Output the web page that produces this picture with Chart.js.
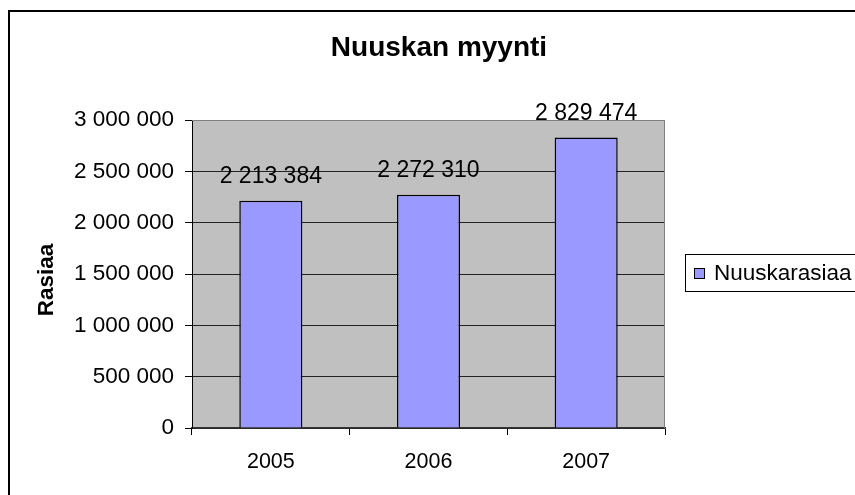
<!DOCTYPE html>
<html>
<head>
<meta charset="utf-8">
<script src="https://cdn.jsdelivr.net/npm/chart.js@4.4.1/dist/chart.umd.min.js"></script>
<style>
  html, body { margin: 0; padding: 0; background: #fff; }
  #wrap { width: 855px; height: 495px; position: relative; }
</style>
</head>
<body>
<div id="wrap"><canvas id="chart"></canvas></div>
<script>
const years = ['2005', '2006', '2007'];
const rasiat = [2213384, 2272310, 2829474];
const seriesName = 'Nuuskarasiaa';
const chartTitle = 'Nuuskan myynti';
const yTitle = 'Rasiaa';

const FONT = '"Liberation Sans", Arial, sans-serif';

// space-separated thousands, like the Finnish Excel original
const fmt = v => String(Math.round(v)).replace(/\B(?=(\d{3})+(?!\d))/g, ' ');

const excelLook = {
  id: 'excelLook',
  beforeDraw(chart) {
    const { ctx, chartArea: a } = chart;
    ctx.save();
    ctx.fillStyle = '#c0c0c0';
    ctx.fillRect(a.left, a.top, a.right - a.left, a.bottom - a.top);
    ctx.restore();
  },
  beforeDatasetsDraw(chart) {
    const { ctx, chartArea: a } = chart;
    ctx.save();
    ctx.strokeStyle = '#808080';
    ctx.lineWidth = 1;
    ctx.beginPath();
    ctx.moveTo(a.left, a.top + 0.5);
    ctx.lineTo(a.right - 0.5, a.top + 0.5);
    ctx.lineTo(a.right - 0.5, a.bottom);
    ctx.stroke();
    ctx.restore();
  },
  afterDraw(chart) {
    const { ctx } = chart;
    ctx.save();

    // value labels above bars
    const meta = chart.getDatasetMeta(0);
    ctx.fillStyle = '#000';
    ctx.font = '23px ' + FONT;
    ctx.textAlign = 'center';
    ctx.textBaseline = 'alphabetic';
    meta.data.forEach((bar, i) => {
      ctx.fillText(fmt(rasiat[i]), bar.x, bar.y - 18);
    });

    // title
    ctx.font = 'bold 28px ' + FONT;
    ctx.fillText(chartTitle, 439, 56);

    // y axis title
    ctx.save();
    ctx.translate(53, 280);
    ctx.rotate(-Math.PI / 2);
    ctx.font = 'bold 22.5px ' + FONT;
    ctx.fillText(yTitle, 0, 0);
    ctx.restore();

    // legend
    ctx.lineWidth = 1;
    ctx.strokeStyle = '#000';
    ctx.strokeRect(685.5, 254.5, 220, 37);
    ctx.fillStyle = '#9999ff';
    ctx.fillRect(694, 268, 11, 11);
    ctx.strokeRect(694.5, 268.5, 10, 10);
    ctx.fillStyle = '#000';
    ctx.textAlign = 'left';
    ctx.font = '22.5px ' + FONT;
    ctx.fillText(seriesName, 714, 280);

    // outer chart frame
    ctx.lineWidth = 2;
    ctx.strokeRect(9, 11, 900, 600);
    ctx.restore();
  }
};

new Chart(document.getElementById('chart'), {
  type: 'bar',
  data: {
    labels: years,
    datasets: [{
      label: seriesName,
      data: rasiat,
      backgroundColor: '#9999ff',
      borderColor: '#000',
      borderWidth: 1.5,
      barPercentage: 0.4,
      categoryPercentage: 1
    }]
  },
  options: {
    responsive: true,
    maintainAspectRatio: false,
    animation: false,
    layout: { padding: { left: 10, top: 120, right: 190, bottom: 17 } },
    plugins: {
      legend: { display: false },
      title: { display: false },
      tooltip: { enabled: false }
    },
    scales: {
      x: {
        afterFit: s => { s.height = 50; },
        grid: {
          display: true,
          offset: true,
          drawOnChartArea: false,
          drawTicks: true,
          tickLength: 7,
          color: '#000'
        },
        border: { color: '#333', width: 1.5 },
        ticks: {
          color: '#000',
          padding: 14,
          font: { family: FONT, size: 21.5 }
        }
      },
      y: {
        min: 0,
        max: 3000000,
        afterFit: s => { s.width = 182; },
        grid: {
          color: c => (c.tick && c.tick.value === 3000000) ? '#808080' : '#222',
          tickColor: '#000',
          tickLength: 7,
          lineWidth: 1
        },
        border: { color: '#000', width: 1 },
        ticks: {
          stepSize: 500000,
          color: '#000',
          padding: 11,
          font: { family: FONT, size: 22.5 },
          callback: v => fmt(v)
        }
      }
    }
  },
  plugins: [excelLook]
});
</script>
</body>
</html>
